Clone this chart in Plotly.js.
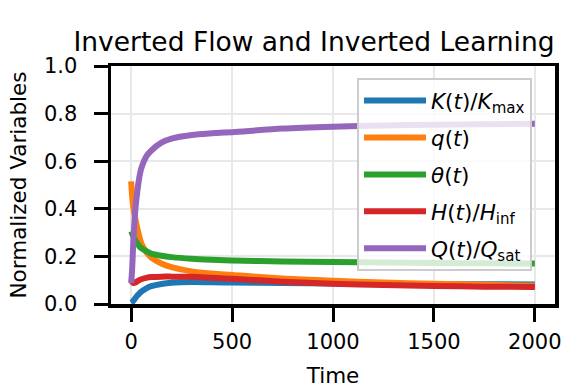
<!DOCTYPE html>
<html>
<head>
<meta charset="utf-8">
<script src="https://cdn.plot.ly/plotly-3.0.1.min.js"></script>
<style>
html, body { margin: 0; padding: 0; background: #fff; }
#chart { width: 571px; height: 388px; }
</style>
</head>
<body>
<div id="chart"></div>
<script>
// Time samples
const time = [0, 5, 10, 20, 30, 40, 50, 75, 100, 150, 200, 300, 400, 500, 750, 1000, 1250, 1500, 1750, 2000];
// Series values
const kNorm     = [0.005, 0.008, 0.013, 0.024, 0.035, 0.044, 0.052, 0.066, 0.075, 0.084, 0.089, 0.092, 0.091, 0.090, 0.088, 0.086, 0.085, 0.084, 0.083, 0.082];
const qVal      = [0.515, 0.450, 0.410, 0.360, 0.320, 0.285, 0.255, 0.218, 0.195, 0.170, 0.155, 0.137, 0.128, 0.122, 0.107, 0.098, 0.090, 0.085, 0.081, 0.077];
const thetaVal  = [0.305, 0.295, 0.285, 0.268, 0.255, 0.243, 0.235, 0.222, 0.212, 0.203, 0.197, 0.190, 0.186, 0.183, 0.179, 0.176, 0.174, 0.172, 0.171, 0.170];
const hNorm     = [0.102, 0.093, 0.089, 0.090, 0.095, 0.100, 0.104, 0.110, 0.113, 0.115, 0.115, 0.114, 0.110, 0.106, 0.094, 0.085, 0.080, 0.076, 0.073, 0.071];
const qSatNorm  = [0.088, 0.150, 0.250, 0.390, 0.470, 0.530, 0.570, 0.620, 0.645, 0.678, 0.695, 0.710, 0.717, 0.722, 0.737, 0.745, 0.750, 0.753, 0.755, 0.757];

const seriesNames = [
  '<i>K</i>(<i>t</i>)/<i>K</i><sub>max</sub>',
  '<i>q</i>(<i>t</i>)',
  '<i>θ</i>(<i>t</i>)',
  '<i>H</i>(<i>t</i>)/<i>H</i><sub>inf</sub>',
  '<i>Q</i>(<i>t</i>)/<i>Q</i><sub>sat</sub>'
];
const seriesValues = [kNorm, qVal, thetaVal, hNorm, qSatNorm];
const seriesColors = ['#1f77b4', '#ff7f0e', '#2ca02c', '#d62728', '#9467bd'];

const xTicks = [0, 500, 1000, 1500, 2000];
const yTicks = [0.0, 0.2, 0.4, 0.6, 0.8, 1.0];
const yTickText = ['0.0', '0.2', '0.4', '0.6', '0.8', '1.0'];

const traces = seriesValues.map((vals, i) => ({
  x: time,
  y: vals,
  type: 'scatter',
  mode: 'lines',
  name: seriesNames[i],
  legendgroup: 'g' + i,
  line: { color: seriesColors[i], width: 6, shape: 'spline', smoothing: 0.8 }
}));

const font = 'DejaVu Sans, sans-serif';

const layout = {
  width: 571,
  height: 388,
  paper_bgcolor: '#ffffff',
  plot_bgcolor: '#ffffff',
  margin: { l: 111, r: 16, t: 66, b: 84, pad: 0 },
  font: { family: font, size: 21, color: '#000' },
  title: {
    text: 'Inverted Flow and Inverted Learning',
    font: { family: font, size: 26.5, color: '#000' },
    xref: 'container', x: 0.55, xanchor: 'center',
    yref: 'container', y: 1 - 42 / 388, yanchor: 'middle'
  },
  xaxis: {
    range: [-100, 2100],
    tickvals: xTicks,
    ticktext: xTicks.map(String),
    ticks: 'outside', ticklen: 14, tickwidth: 3, tickcolor: '#000',
    ticklabelstandoff: 2,
    showline: true, linewidth: 3.5, linecolor: '#000', mirror: true,
    showgrid: true, gridcolor: '#e8e8e8', gridwidth: 2,
    zeroline: false,
    tickfont: { family: font, size: 21, color: '#000' },
    title: { text: 'Time', font: { family: font, size: 21.5, color: '#000' }, standoff: 18 },
    automargin: false
  },
  yaxis: {
    range: [0, 1],
    tickvals: yTicks,
    ticktext: yTickText,
    ticks: 'outside', ticklen: 14, tickwidth: 3, tickcolor: '#000',
    ticklabelstandoff: 12,
    showline: true, linewidth: 3.5, linecolor: '#000', mirror: true,
    showgrid: true, gridcolor: '#e8e8e8', gridwidth: 2,
    zeroline: false,
    tickfont: { family: font, size: 21, color: '#000' },
    title: { text: 'Normalized Variables', font: { family: font, size: 21.5, color: '#000' }, standoff: 12 },
    automargin: false
  },
  showlegend: true,
  legend: {
    x: (357 - 111) / 444, xanchor: 'left',
    y: (304 - 78) / 238, yanchor: 'top',
    bgcolor: 'rgba(255,255,255,0.8)',
    bordercolor: '#cccccc', borderwidth: 2,
    font: { family: font, size: 21.5, color: '#000' },
    traceorder: 'grouped',
    tracegroupgap: 6,
    itemwidth: 62
  }
};

Plotly.newPlot('chart', traces, layout, { displayModeBar: false, staticPlot: true });
</script>
</body>
</html>
